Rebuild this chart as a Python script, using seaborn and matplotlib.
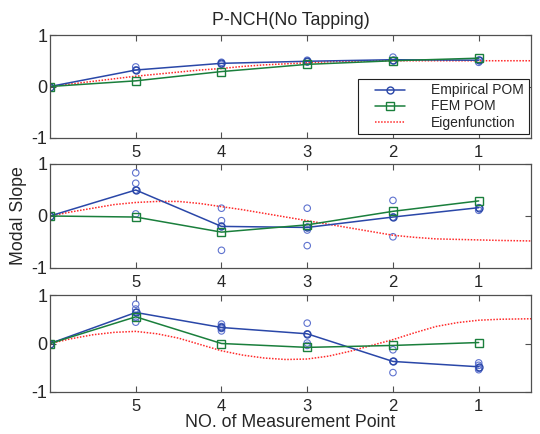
import numpy as np
import pandas as pd
import matplotlib
matplotlib.use("Agg")
import matplotlib.pyplot as plt
import seaborn as sns
from matplotlib.lines import Line2D
from matplotlib.legend_handler import HandlerLine2D

# ---------------- data ----------------
positions = [0, 1, 2, 3, 4, 5]
tick_labels = ["5", "4", "3", "2", "1"]

emp_mean_1 = [0, 0.32, 0.45, 0.49, 0.52, 0.51]
emp_mean_2 = [0, 0.50, -0.20, -0.22, -0.02, 0.16]
emp_mean_3 = [0, 0.64, 0.33, 0.20, -0.37, -0.48]

fem_1 = [0, 0.11, 0.29, 0.43, 0.50, 0.55]
fem_2 = [0, -0.02, -0.31, -0.17, 0.09, 0.29]
fem_3 = [0, 0.55, 0.00, -0.08, -0.04, 0.02]

# individual empirical estimates per measurement position
emp_pts_1 = {1: [0.38, 0.32], 2: [0.47, 0.43], 3: [0.51, 0.48],
             4: [0.57, 0.50], 5: [0.51, 0.47]}
emp_pts_2 = {1: [0.83, 0.63, 0.50, 0.04], 2: [0.15, -0.09, -0.20, -0.66],
             3: [0.15, -0.22, -0.27, -0.57], 4: [0.30, -0.02, -0.40],
             5: [0.16, 0.11]}
emp_pts_3 = {1: [0.81, 0.71, 0.64, 0.54, 0.44], 2: [0.40, 0.35, 0.31, 0.26],
             3: [0.42, 0.20, 0.01, -0.04], 4: [-0.13, -0.37, -0.60],
             5: [-0.40, -0.45, -0.51, -0.54]}

eig_x = [0, 0.25, 0.5, 0.75, 1.0, 1.25, 1.5, 1.75, 2.0, 2.25, 2.5, 2.75, 3.0,
         3.25, 3.5, 3.75, 4.0, 4.25, 4.5, 4.75, 5.0, 5.25, 5.61]
eig_1 = [0, 0.05, 0.10, 0.15, 0.20, 0.24, 0.28, 0.32, 0.35, 0.39, 0.42, 0.44,
         0.46, 0.48, 0.49, 0.50, 0.50, 0.50, 0.50, 0.50, 0.50, 0.50, 0.50]
eig_2 = [0, 0.08, 0.15, 0.22, 0.26, 0.28, 0.28, 0.24, 0.18, 0.12, 0.05, -0.02,
         -0.09, -0.16, -0.23, -0.30, -0.37, -0.41, -0.44, -0.45, -0.46, -0.47, -0.48]
eig_3 = [0, 0.10, 0.18, 0.23, 0.25, 0.20, 0.11, -0.02, -0.15, -0.24, -0.30, -0.33,
         -0.32, -0.26, -0.16, -0.04, 0.08, 0.22, 0.35, 0.43, 0.48, 0.50, 0.51]

panels = [
    (emp_mean_1, fem_1, emp_pts_1, eig_1),
    (emp_mean_2, fem_2, emp_pts_2, eig_2),
    (emp_mean_3, fem_3, emp_pts_3, eig_3),
]

# ---------------- style ----------------
sns.set_style("ticks")
plt.rcParams["font.family"] = ["Liberation Sans", "DejaVu Sans"]
plt.rcParams["xtick.direction"] = "in"
plt.rcParams["ytick.direction"] = "in"

BLUE = "#2a47a8"
LBLUE = "#5f73cf"
GREEN = "#1a7f3c"
RED = "#ff2a2a"
SPINE = "#505050"

W, H = 540, 434
fig = plt.figure(figsize=(W / 100, H / 100), dpi=100)
x_left, x_right = 50, 531


def rect(top, bottom):
    return (x_left / W, 1 - bottom / H, (x_right - x_left) / W, (bottom - top) / H)


rects = [rect(35, 138), rect(164, 268), rect(295, 392)]

axes = []
for r, (emp_mean, fem, pts, eig) in zip(rects, panels):
    ax = fig.add_axes(r)
    axes.append(ax)
    sns.lineplot(x=eig_x, y=eig, ax=ax, color=RED, linestyle=(0, (1, 1)),
                 linewidth=1.1, legend=False)
    rows = [(p, v) for p, vals in pts.items() for v in vals]
    df = pd.DataFrame(rows, columns=["pos", "val"])
    sns.scatterplot(data=df, x="pos", y="val", ax=ax, marker="o",
                    facecolor="none", edgecolor=LBLUE, linewidth=0.8, s=22,
                    legend=False)
    sns.lineplot(x=positions, y=emp_mean, ax=ax, color=BLUE, linewidth=1.1,
                 marker="o", markersize=5, markerfacecolor="none",
                 markeredgecolor=BLUE, markeredgewidth=1.0, legend=False)
    sns.lineplot(x=positions, y=fem, ax=ax, color=GREEN, linewidth=1.1,
                 marker="s", markersize=5.5, markerfacecolor="none",
                 markeredgecolor=GREEN, markeredgewidth=1.0, legend=False)

    ax.set_xlim(0, 5.61)
    ax.set_ylim(-1, 1)
    ax.set_xticks(positions[1:])
    ax.set_xticklabels(tick_labels, fontsize=12)
    ax.set_yticks([-1, 0, 1])
    ax.set_yticklabels(["-1", "0", "1"], fontsize=13)
    ax.tick_params(axis="both", which="both", top=True, right=True,
                   length=4, width=0.8, color=SPINE, pad=2)
    ax.tick_params(axis="x", pad=5)
    ax.set_xlabel("")
    ax.set_ylabel("")
    for s in ax.spines.values():
        s.set_visible(True)
        s.set_color(SPINE)
        s.set_linewidth(0.9)

axes[0].set_title("P-NCH(No Tapping)", fontsize=12.8, pad=7)
axes[1].set_ylabel("Modal Slope", fontsize=12.8, labelpad=3)
axes[2].set_xlabel("NO. of Measurement Point", fontsize=12.8, labelpad=0)


class InsetHandler(HandlerLine2D):
    def get_xdata(self, legend, xdescent, ydescent, width, height, fontsize):
        x0 = -xdescent + 0.28 * width
        x1 = -xdescent + 1.0 * width
        return np.array([x0, x1]), np.array([(x0 + x1) / 2])


handles = [
    Line2D([], [], color=BLUE, marker="o", markerfacecolor="none",
           markersize=5, linewidth=1.1),
    Line2D([], [], color=GREEN, marker="s", markerfacecolor="none",
           markersize=5.5, linewidth=1.1),
    Line2D([], [], color=RED, linestyle=(0, (1, 1)), linewidth=1.1),
]
leg = axes[0].legend(handles, ["Empirical POM", "FEM POM", "Eigenfunction"],
                     loc="lower right", bbox_to_anchor=(0.995, 0.035),
                     fontsize=10, frameon=True, fancybox=False,
                     borderpad=0.35, labelspacing=0.15, handlelength=3.0,
                     handletextpad=1.9, borderaxespad=0.0,
                     handler_map={Line2D: InsetHandler()})
leg.get_frame().set_edgecolor("#202020")
leg.get_frame().set_linewidth(0.8)
leg.get_frame().set_alpha(1)

fig.savefig("out.png", dpi=100)
